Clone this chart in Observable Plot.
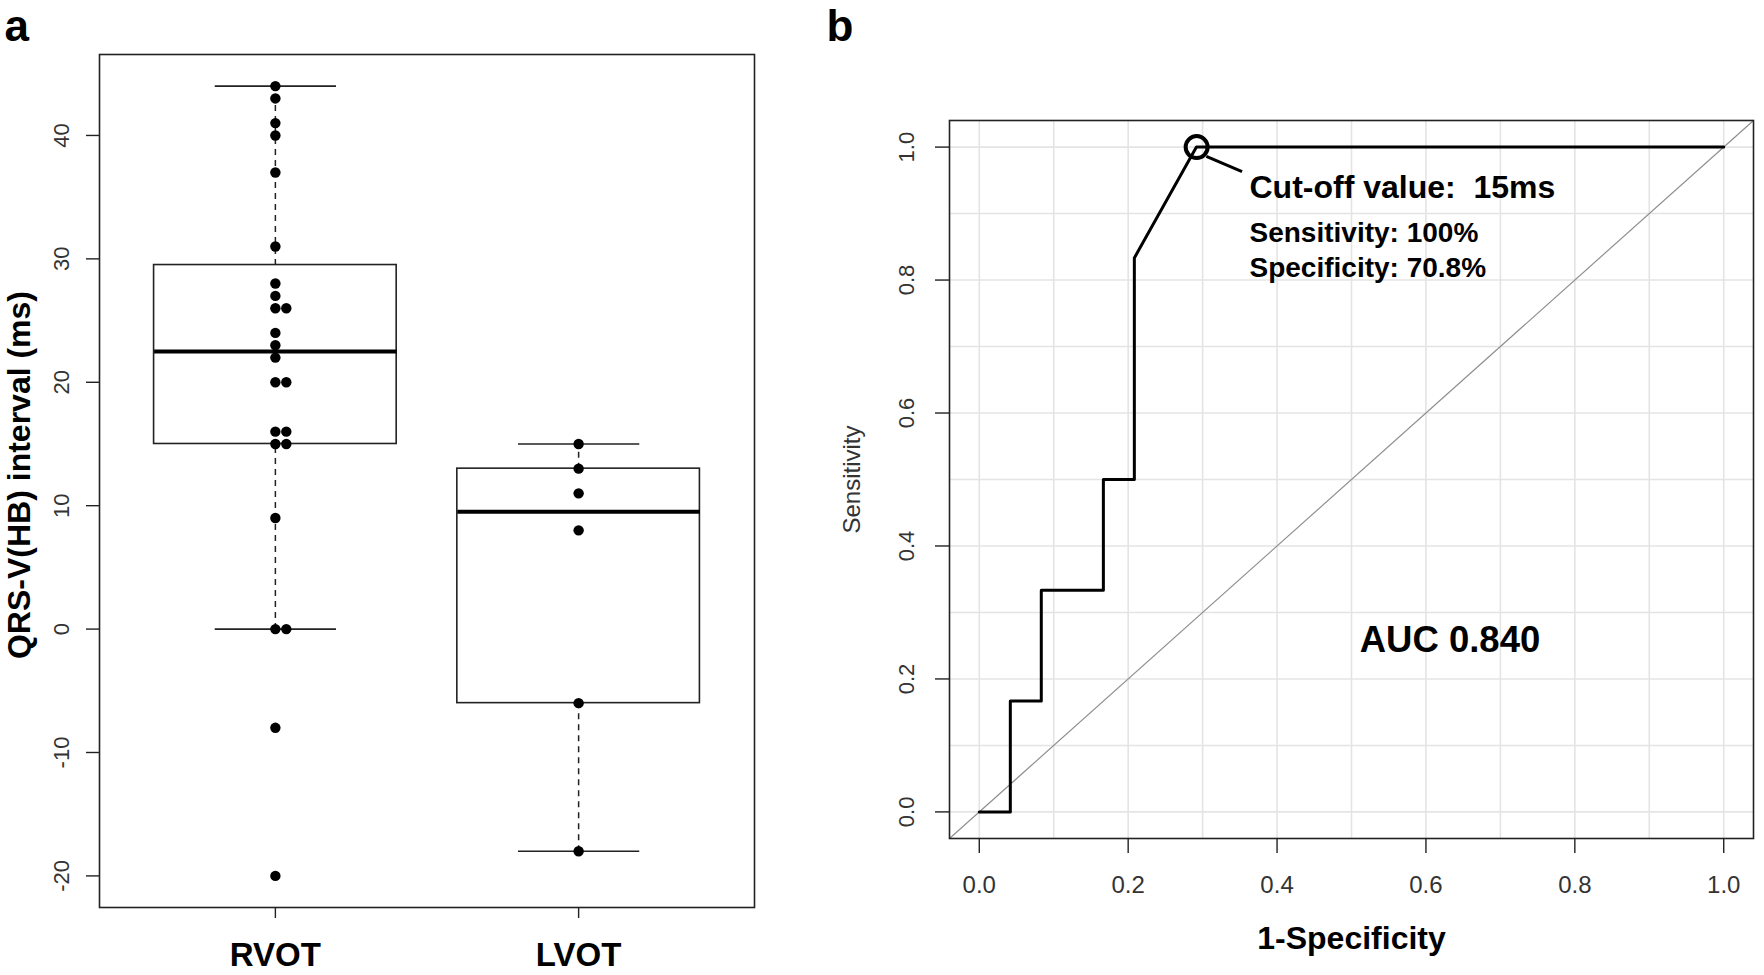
<!DOCTYPE html>
<html><head><meta charset="utf-8">
<script src="https://cdn.jsdelivr.net/npm/d3@7"></script>
<script src="https://cdn.jsdelivr.net/npm/@observablehq/plot@0.6"></script>
<style>
html,body{margin:0;padding:0;background:#fff;}
#wrap{position:relative;width:1764px;height:975px;overflow:hidden;background:#fff;}
#wrap svg{position:absolute;top:0;}
</style></head><body><div id="wrap"></div>
<script>
// ---- Panel a data ----
const categories = ["RVOT", "LVOT"];
const rvot = [44, 43, 41, 40, 37, 31, 28, 27, 26, 26, 24, 23, 22, 20, 20, 16, 16, 15, 15, 9, 0, 0, -8, -20];
const lvot = [15, 13, 11, 8, -6, -18];
const yTicksA = [-20, -10, 0, 10, 20, 30, 40];
const yLabelA = "QRS-V(HB) interval (ms)";

// ---- Panel b data (ROC) ----
const rocFpr = [0, 0.0417, 0.0417, 0.0833, 0.0833, 0.1667, 0.1667, 0.2083, 0.2083, 0.2917, 1.0];
const rocTpr = [0, 0, 0.1667, 0.1667, 0.3333, 0.3333, 0.5, 0.5, 0.8333, 1.0, 1.0];
const ticksB = [0, 0.2, 0.4, 0.6, 0.8, 1.0];
const gridB = [0, 0.1, 0.2, 0.3, 0.4, 0.5, 0.6, 0.7, 0.8, 0.9, 1.0];
const cutoffFpr = [0.292];
const cutoffTpr = [1.0];
const annotText = ["Cut-off value:\u00a0 15ms", "Sensitivity: 100%", "Specificity: 70.8%", "AUC 0.840"];

const FONT = "'Liberation Sans', Arial, Helvetica, sans-serif";

// R-style fivenum
function fivenum(v) {
  const x = v.slice().sort((a, b) => a - b);
  const n = x.length;
  const n4 = Math.floor((n + 3) / 2) / 2;
  const d = [1, n4, (n + 1) / 2, n + 1 - n4, n];
  return d.map(k => 0.5 * (x[Math.floor(k) - 1] + x[Math.ceil(k) - 1]));
}
const groups = [rvot, lvot];
const boxData = groups.map((vals, gi) => {
  const f = fivenum(vals);
  const iqr = f[3] - f[1];
  const lo = d3.min(vals.filter(v => v >= f[1] - 1.5 * iqr));
  const hi = d3.max(vals.filter(v => v <= f[3] + 1.5 * iqr));
  return {i: gi + 1, q1: f[1], med: f[2], q3: f[3], lo, hi};
});
const dotsA = [];
groups.forEach((vals, gi) => {
  const cnt = new Map();
  vals.forEach(v => {
    const k = cnt.get(v) || 0;
    cnt.set(v, k + 1);
    dotsA.push({x: gi + 1 + k * 0.036, y: v});
  });
});

const line = {stroke: "#222", strokeWidth: 1.6};
const dashed = {stroke: "#222", strokeWidth: 1.5, strokeDasharray: "6,5"};

const A = Plot.plot({
  width: 800, height: 975,
  marginLeft: 99, marginRight: 46, marginTop: 54, marginBottom: 68,
  style: {fontFamily: FONT, background: "transparent", overflow: "visible", maxWidth: "none"},
  x: {domain: [0.42, 2.58], label: null},
  y: {domain: [-22.56, 46.56], label: null},
  marks: [
    Plot.link(boxData, {x1: "i", x2: "i", y1: "q3", y2: "hi", ...dashed}),
    Plot.link(boxData, {x1: "i", x2: "i", y1: "lo", y2: "q1", ...dashed}),
    Plot.link(boxData, {x1: d => d.i - 0.2, x2: d => d.i + 0.2, y1: "hi", y2: "hi", ...line}),
    Plot.link(boxData, {x1: d => d.i - 0.2, x2: d => d.i + 0.2, y1: "lo", y2: "lo", ...line}),
    Plot.rect(boxData, {x1: d => d.i - 0.4, x2: d => d.i + 0.4, y1: "q1", y2: "q3", fill: "none", ...line}),
    Plot.link(boxData, {x1: d => d.i - 0.4, x2: d => d.i + 0.4, y1: "med", y2: "med", stroke: "black", strokeWidth: 4}),
    Plot.dot(dotsA, {x: "x", y: "y", r: 5.2, fill: "black"}),
    Plot.frame({stroke: "#222", strokeWidth: 1.6}),
    Plot.axisY({ticks: yTicksA, tickSize: 13, tickFormat: () => "", label: null, stroke: "#222", strokeWidth: 1.4}),
    Plot.text(yTicksA, {y: d => d, text: d => String(d), frameAnchor: "left", dx: -31, rotate: -90,
      lineAnchor: "bottom", textAnchor: "middle", fontSize: 22, fill: "#333"}),
    Plot.axisX({ticks: [1, 2], tickSize: 11, tickPadding: 24, tickFormat: d => categories[d - 1], label: null,
      fontSize: 33, fontWeight: "bold", fill: "black", stroke: "#222", strokeWidth: 1.4}),
    Plot.text([yLabelA], {frameAnchor: "left", dx: -70, dy: -6, rotate: -90, lineAnchor: "bottom",
      textAnchor: "middle", fontSize: 32, fontWeight: "bold", fill: "black"}),
    Plot.text(["a"], {frameAnchor: "top-left", dx: -95, dy: -14, lineAnchor: "bottom", textAnchor: "start",
      fontSize: 44, fontWeight: "bold", fill: "black"})
  ]
});
A.style.left = "0px";

const roc = rocFpr.map((f, i) => ({x: f, y: rocTpr[i]}));
const cut = cutoffFpr.map((f, i) => ({x: f, y: cutoffTpr[i]}));
const xDom = [-0.04, 1.04];

const B = Plot.plot({
  width: 964, height: 975,
  marginLeft: 149, marginRight: 11, marginTop: 120, marginBottom: 137,
  style: {fontFamily: FONT, background: "transparent", overflow: "visible", maxWidth: "none"},
  x: {domain: xDom, label: null},
  y: {domain: xDom, label: null},
  marks: [
    Plot.gridX({ticks: gridB, stroke: "#e4e4e4", strokeOpacity: 1, strokeWidth: 1.6}),
    Plot.gridY({ticks: gridB, stroke: "#e4e4e4", strokeOpacity: 1, strokeWidth: 1.6}),
    Plot.link([xDom], {x1: d => d[0], y1: d => d[0], x2: d => d[1], y2: d => d[1], stroke: "#8f8f8f", strokeWidth: 1.2}),
    Plot.line(roc, {x: "x", y: "y", stroke: "black", strokeWidth: 3}),
    Plot.dot(cut, {x: "x", y: "y", r: 11, stroke: "black", strokeWidth: 4, fill: "none"}),
    Plot.link(cut, {x1: d => d.x + 0.013, y1: d => d.y - 0.014, x2: d => d.x + 0.061, y2: d => d.y - 0.037, stroke: "black", strokeWidth: 3}),
    Plot.text([annotText[0]], {x: () => 0.363, y: () => 0.924, textAnchor: "start", lineAnchor: "bottom", fontSize: 32, fontWeight: "bold", fill: "black"}),
    Plot.text([annotText[1]], {x: () => 0.363, y: () => 0.857, textAnchor: "start", lineAnchor: "bottom", fontSize: 28, fontWeight: "bold", fill: "black"}),
    Plot.text([annotText[2]], {x: () => 0.363, y: () => 0.805, textAnchor: "start", lineAnchor: "bottom", fontSize: 28, fontWeight: "bold", fill: "black"}),
    Plot.text([annotText[3]], {x: () => 0.511, y: () => 0.241, textAnchor: "start", lineAnchor: "bottom", fontSize: 36.5, fontWeight: "bold", fill: "black"}),
    Plot.frame({stroke: "#222", strokeWidth: 1.6}),
    Plot.axisX({ticks: ticksB, tickSize: 15, tickPadding: 22, tickFormat: d => d.toFixed(1), label: null,
      fontSize: 24, fill: "#333", stroke: "#222", strokeWidth: 1.4}),
    Plot.axisY({ticks: ticksB, tickSize: 14, tickFormat: () => "", label: null, stroke: "#222", strokeWidth: 1.4}),
    Plot.text(ticksB, {y: d => d, text: d => d.toFixed(1), frameAnchor: "left", dx: -36, rotate: -90,
      lineAnchor: "bottom", textAnchor: "middle", fontSize: 22, fill: "#333"}),
    Plot.text(["Sensitivity"], {frameAnchor: "left", dx: -90, rotate: -90, lineAnchor: "bottom",
      textAnchor: "middle", fontSize: 24, fill: "#333"}),
    Plot.text(["1-Specificity"], {frameAnchor: "bottom", dy: 110, lineAnchor: "bottom",
      textAnchor: "middle", fontSize: 32, fontWeight: "bold", fill: "black"}),
    Plot.text(["b"], {frameAnchor: "top-left", dx: -123, dy: -80, lineAnchor: "bottom", textAnchor: "start",
      fontSize: 44, fontWeight: "bold", fill: "black"})
  ]
});
B.style.left = "800px";

const wrap = document.getElementById("wrap");
wrap.appendChild(A);
wrap.appendChild(B);
</script>
</body></html>
